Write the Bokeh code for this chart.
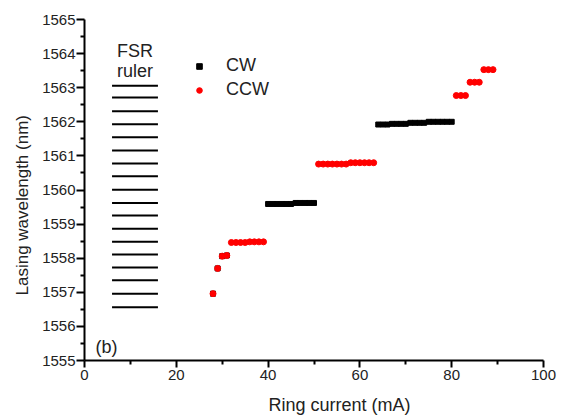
from bokeh.plotting import figure
from bokeh.models import Range1d, Legend, LegendItem, Label, FixedTicker, Title
from bokeh.embed import file_html
from bokeh.resources import INLINE

# ---- data ----
cw_current = [28, 29, 30, 31,
              40, 41, 42, 43, 44, 45, 46, 47, 48, 49, 50,
              64, 65, 66, 67, 68, 69, 70, 71, 72, 73, 74, 75, 76, 77, 78, 79, 80]
cw_wavelength = [1556.96, 1557.70, 1558.06, 1558.08,
                 1559.59, 1559.59, 1559.59, 1559.59, 1559.59, 1559.59,
                 1559.62, 1559.62, 1559.62, 1559.62, 1559.62,
                 1561.92, 1561.92, 1561.92, 1561.94, 1561.94, 1561.94, 1561.94,
                 1561.97, 1561.97, 1561.97, 1561.97,
                 1562.00, 1562.00, 1562.00, 1562.00, 1562.00, 1562.00]

ccw_current = [28, 29, 30, 31,
               32, 33, 34, 35, 36, 37, 38, 39,
               51, 52, 53, 54, 55, 56, 57, 58, 59, 60, 61, 62, 63,
               81, 82, 83, 84, 85, 86, 87, 88, 89]
ccw_wavelength = [1556.96, 1557.70, 1558.06, 1558.08,
                  1558.46, 1558.46, 1558.46, 1558.46, 1558.48, 1558.48, 1558.48, 1558.48,
                  1560.76, 1560.76, 1560.76, 1560.76, 1560.76, 1560.76, 1560.76,
                  1560.80, 1560.80, 1560.80, 1560.80, 1560.80, 1560.80,
                  1562.77, 1562.77, 1562.77, 1563.16, 1563.16, 1563.16,
                  1563.53, 1563.53, 1563.53]

fsr_ruler = [1563.06, 1562.71, 1562.31, 1561.93, 1561.55, 1561.16, 1560.78,
             1560.40, 1560.01, 1559.62, 1559.25, 1558.86, 1558.48, 1558.11,
             1557.73, 1557.35, 1556.96, 1556.56]

x_ticks = [0, 20, 40, 60, 80, 100]
x_minor = [10, 30, 50, 70, 90]
y_ticks = [1555, 1556, 1557, 1558, 1559, 1560, 1561, 1562, 1563, 1564, 1565]
y_minor = [1555.5, 1556.5, 1557.5, 1558.5, 1559.5, 1560.5, 1561.5, 1562.5,
           1563.5, 1564.5]

FONT = "Liberation Sans"
TXT = "#222222"

p = figure(frame_width=459, frame_height=341,
           min_border_left=84, min_border_right=23,
           min_border_top=19, min_border_bottom=56,
           x_range=Range1d(0, 100), y_range=Range1d(1555, 1565),
           output_backend="svg", toolbar_location=None)
p.outline_line_color = None
p.grid.visible = False
p.background_fill_color = "white"
p.border_fill_color = "white"

for ax in (p.xaxis[0], p.yaxis[0]):
    ax.axis_line_width = 2
    ax.axis_line_color = "black"
    ax.major_tick_line_width = 2
    ax.major_tick_line_color = "black"
    ax.minor_tick_line_width = 2
    ax.minor_tick_line_color = "black"
    ax.major_tick_in = 0
    ax.minor_tick_in = 0
    ax.minor_tick_out = 4
    ax.major_label_text_font = FONT
    ax.major_label_text_font_size = "15px"
    ax.major_label_text_color = TXT

p.xaxis.ticker = FixedTicker(ticks=x_ticks, minor_ticks=x_minor)
p.yaxis.ticker = FixedTicker(ticks=y_ticks, minor_ticks=y_minor)
p.xaxis.major_tick_out = 7
p.yaxis.major_tick_out = 8
p.xaxis.major_label_standoff = 2
p.yaxis.major_label_standoff = 1

# axis titles as side-panel titles so they can sit off-centre like the original
p.add_layout(Title(text="Ring current (mA)", align="left", offset=184,
                   text_font=FONT, text_font_size="18px", text_font_style="normal",
                   text_color=TXT, standoff=20), "below")
p.add_layout(Title(text="Lasing wavelength (nm)", align="left", offset=65,
                   text_font=FONT, text_font_size="17px", text_font_style="normal",
                   text_color=TXT, standoff=16), "left")

# FSR ruler
p.segment(x0=6, x1=16, y0=fsr_ruler, y1=fsr_ruler, line_color="black", line_width=2)

r_cw = p.scatter(cw_current, cw_wavelength, marker="square", size=5,
                 fill_color="black", line_color="black")
r_ccw = p.scatter(ccw_current, ccw_wavelength, marker="circle", size=6,
                  fill_color="red", line_color="red")

legend = Legend(items=[LegendItem(label="CW", renderers=[r_cw]),
                       LegendItem(label="CCW", renderers=[r_ccw])],
                location=(108, 260), padding=0, spacing=3,
                border_line_color=None, background_fill_alpha=0,
                glyph_width=14, glyph_height=14, label_height=20,
                label_standoff=20,
                label_text_font=FONT, label_text_font_size="18px",
                label_text_color=TXT)
p.add_layout(legend)

def lab(x, y, text, size="18px", align="center"):
    p.add_layout(Label(x=x, y=y, text=text, text_font=FONT, text_font_size=size,
                       text_color=TXT, text_align=align,
                       text_baseline="alphabetic"))

lab(11, 1564.09, "FSR")
lab(11, 1563.48, "ruler")
lab(2.4, 1555.39, "(b)", align="left")

open("out.html", "w").write(file_html(p, INLINE))
